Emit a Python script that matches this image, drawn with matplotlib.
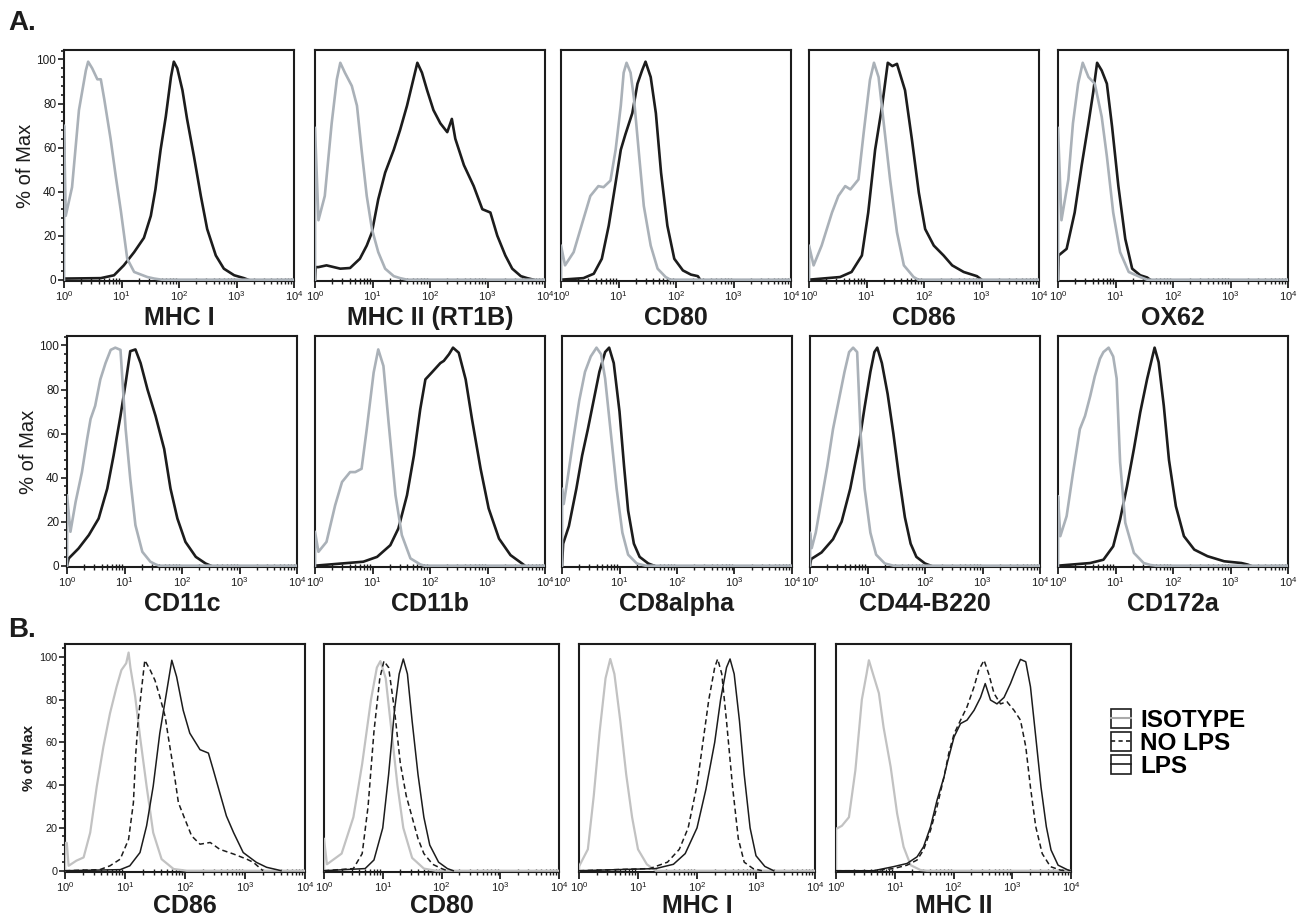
import matplotlib
matplotlib.use('Agg')
import matplotlib.pyplot as plt
import numpy as np
from matplotlib.lines import Line2D
from matplotlib.legend_handler import HandlerLine2D
from matplotlib.patches import Rectangle
from matplotlib.ticker import LogLocator, MultipleLocator, NullFormatter

plt.rcParams['font.family'] = ['Liberation Sans', 'DejaVu Sans']
plt.rcParams['mathtext.fontset'] = 'custom'
plt.rcParams['mathtext.rm'] = 'Liberation Sans'

# histogram traces: (log10 intensity, % of max)
# --- A, top row
mhc1_iso = [(0, 0), (0, 70), (0.03, 29), (0.14, 42), (0.26, 77), (0.38, 95), (0.42, 99), (0.49, 96), (0.58, 91),
            (0.64, 91), (0.70, 82), (0.81, 64), (0.90, 47), (0.99, 31), (1.10, 9.5), (1.22, 3.5), (1.45, 1.2),
            (1.57, 0.5), (1.7, 0), (4, 0)]
mhc1_ab = [(0, 0.5), (0.64, 0.7), (0.87, 2), (1.04, 6.5), (1.22, 12.5), (1.39, 19), (1.51, 29), (1.59, 41),
           (1.68, 59), (1.77, 74), (1.86, 92), (1.91, 99), (1.97, 96), (2.06, 86), (2.14, 73), (2.26, 56),
           (2.38, 38), (2.49, 23), (2.64, 11), (2.78, 5), (2.96, 2), (3.13, 0.7), (3.2, 0)]

mhc2_iso = [(0, 0), (0, 69), (0.06, 27), (0.17, 38), (0.29, 71), (0.38, 91), (0.44, 98.5), (0.52, 94), (0.64, 88),
            (0.73, 79), (0.81, 59), (0.90, 38), (0.99, 23), (1.10, 12.5), (1.22, 5), (1.37, 1.6), (1.48, 0.7),
            (1.6, 0), (4, 0)]
mhc2_ab = [(0, 0), (0.01, 5.7), (0.06, 5.7), (0.20, 6.5), (0.44, 5), (0.61, 5.3), (0.78, 9.5), (0.90, 15.5),
           (0.99, 21.5), (1.10, 36.5), (1.22, 48.6), (1.37, 59), (1.48, 68), (1.60, 79), (1.72, 92), (1.78, 98.5),
           (1.86, 94), (1.95, 86), (2.06, 77), (2.18, 71), (2.30, 67), (2.38, 73), (2.44, 64), (2.59, 52),
           (2.76, 42.5), (2.91, 32), (3.05, 30.5), (3.17, 20), (3.31, 11), (3.43, 5), (3.58, 1.6), (3.69, 0.7),
           (3.8, 0)]

cd80_iso = [(0, 0), (0, 15.5), (0.07, 6.5), (0.22, 12.5), (0.39, 27.5), (0.51, 38), (0.65, 42.5), (0.74, 42),
            (0.86, 45), (0.95, 59), (1.04, 79), (1.09, 94), (1.14, 98.5), (1.21, 94), (1.27, 82), (1.36, 56),
            (1.44, 33.5), (1.56, 15.5), (1.68, 5), (1.82, 1.2), (1.9, 0), (4, 0)]
cd80_ab = [(0, 0), (0.39, 0.7), (0.57, 2.7), (0.71, 9.5), (0.83, 24.5), (0.95, 44), (1.04, 59), (1.12, 66),
           (1.24, 75.6), (1.33, 89), (1.41, 95), (1.47, 99), (1.56, 92), (1.65, 75.6), (1.74, 48.6), (1.85, 24.5),
           (1.97, 9.5), (2.12, 4.2), (2.26, 2.3), (2.38, 1.6), (2.42, 0)]

cd86_iso = [(0, 0), (0, 15.5), (0.08, 6.5), (0.22, 15.5), (0.40, 30.5), (0.51, 38), (0.63, 42.5), (0.72, 41),
            (0.86, 45.5), (0.95, 66.5), (1.06, 90.7), (1.13, 98.5), (1.21, 92), (1.30, 71), (1.41, 45.5),
            (1.53, 21.5), (1.65, 6.5), (1.82, 1.2), (1.9, 0), (4, 0)]
cd86_ab = [(0, 0), (0.54, 1.2), (0.74, 3.5), (0.92, 11), (1.03, 30.5), (1.15, 59), (1.27, 78.6), (1.37, 98.5),
           (1.45, 97), (1.53, 98), (1.67, 86), (1.79, 63.6), (1.91, 39.5), (2.02, 23), (2.17, 15.5), (2.34, 11),
           (2.49, 6.5), (2.69, 3.5), (2.92, 1.6), (3.0, 0)]

ox62_iso = [(0, 0), (0, 69), (0.06, 27), (0.18, 45.5), (0.26, 71), (0.35, 89), (0.43, 98.5), (0.53, 92),
            (0.64, 89), (0.76, 74), (0.85, 56), (0.96, 30.5), (1.08, 12.5), (1.23, 3.5), (1.43, 1.2), (1.55, 0),
            (4, 0)]
ox62_ab = [(0, 0), (0.01, 11), (0.15, 14), (0.29, 30.5), (0.41, 51.6), (0.53, 71), (0.61, 84.7), (0.68, 98.5),
           (0.76, 95), (0.85, 89), (0.94, 69.6), (1.05, 42.5), (1.17, 18.5), (1.29, 5), (1.43, 2), (1.55, 1),
           (1.6, 0)]

# --- A, second row
cd11c_iso = [(0, 0), (0, 32), (0.06, 15.4), (0.15, 29), (0.26, 42.5), (0.35, 57.5), (0.41, 66.6), (0.49, 72.6),
             (0.58, 84.6), (0.67, 92), (0.76, 98), (0.84, 99), (0.93, 98), (1.02, 62), (1.10, 39.5), (1.19, 18.4),
             (1.31, 6.3), (1.45, 1.8), (1.54, 0.6), (1.6, 0), (4, 0)]
cd11c_ab = [(0, 0), (0.03, 3.3), (0.20, 7.8), (0.38, 13.9), (0.55, 21.4), (0.70, 35), (0.81, 50), (0.93, 68),
            (1.02, 83), (1.10, 97.4), (1.19, 98.2), (1.28, 92), (1.40, 80), (1.54, 68), (1.69, 53), (1.80, 35),
            (1.92, 21.4), (2.06, 10.8), (2.24, 4), (2.41, 1), (2.5, 0)]

cd11b_iso = [(0, 0), (0, 15.4), (0.06, 6.3), (0.20, 10.8), (0.35, 27.4), (0.47, 38), (0.61, 42.5), (0.70, 42.5),
             (0.81, 44), (0.90, 62), (1.02, 87.7), (1.10, 98.2), (1.19, 90.7), (1.28, 65), (1.40, 32),
             (1.51, 13.9), (1.66, 3.3), (1.83, 0.6), (1.9, 0), (4, 0)]
cd11b_ab = [(0, 0), (0.84, 1.8), (1.08, 4), (1.31, 9.3), (1.45, 16.9), (1.60, 32), (1.72, 50), (1.83, 71),
            (1.92, 84.6), (2.03, 87.7), (2.18, 92), (2.24, 93), (2.33, 96), (2.40, 99), (2.50, 96.7), (2.62, 84.6),
            (2.73, 66.6), (2.88, 44), (3.02, 26), (3.20, 12.3), (3.40, 4.8), (3.60, 1), (3.65, 0)]

cd8a_iso = [(0, 0), (0, 35), (0.03, 28), (0.1, 40), (0.2, 58), (0.3, 75), (0.4, 88), (0.5, 95), (0.6, 99),
            (0.68, 96), (0.75, 85), (0.85, 60), (0.95, 35), (1.05, 15), (1.15, 5), (1.3, 1), (1.45, 0), (4, 0)]
cd8a_ab = [(0, 0), (0.02, 10), (0.12, 18), (0.25, 35), (0.35, 50), (0.45, 62), (0.55, 75), (0.65, 88), (0.75, 97),
           (0.82, 99), (0.9, 92), (1.0, 70), (1.08, 45), (1.15, 25), (1.25, 10), (1.35, 4), (1.5, 1), (1.6, 0)]

cd44_iso = [(0, 0), (0, 15), (0.03, 8), (0.1, 15), (0.2, 30), (0.3, 45), (0.4, 62), (0.5, 75), (0.6, 88),
            (0.68, 97), (0.75, 99), (0.82, 97), (0.88, 60), (0.95, 35), (1.05, 15), (1.15, 5), (1.3, 1),
            (1.45, 0), (4, 0)]
cd44_ab = [(0, 0), (0.02, 3), (0.2, 6), (0.4, 12), (0.55, 20), (0.7, 35), (0.85, 55), (0.95, 72), (1.05, 88),
           (1.12, 97), (1.17, 99), (1.25, 92), (1.35, 78), (1.45, 60), (1.55, 40), (1.65, 22), (1.75, 10),
           (1.85, 4), (2.0, 1), (2.1, 0)]

cd172_iso = [(0, 0), (0, 31.6), (0.04, 13.4), (0.15, 22.5), (0.26, 42), (0.38, 62), (0.47, 68), (0.56, 77),
             (0.64, 86), (0.73, 94), (0.79, 97), (0.88, 99), (0.96, 95), (1.02, 85), (1.08, 47), (1.17, 19.5),
             (1.32, 5.8), (1.49, 1.2), (1.61, 0.3), (1.7, 0), (4, 0)]
cd172_ab = [(0, 0), (0.56, 1.2), (0.79, 2.7), (0.96, 8.8), (1.08, 21), (1.20, 36), (1.32, 53), (1.43, 69.6),
            (1.55, 84.8), (1.64, 94.7), (1.68, 99), (1.75, 92.4), (1.84, 72.6), (1.93, 48), (2.05, 27),
            (2.19, 13.4), (2.37, 7.3), (2.60, 4.3), (2.89, 2), (3.19, 1.2), (3.30, 0.5), (3.35, 0)]

# --- B, LPS stimulation
b_cd86_iso = [(0, 0), (0, 13), (0.03, 13), (0.06, 2.3), (0.19, 4.7), (0.31, 6.2), (0.42, 17.8), (0.53, 39.5),
              (0.64, 58), (0.75, 73.6), (0.86, 86), (0.94, 93.8), (1.02, 97), (1.06, 102), (1.09, 95),
              (1.17, 81.4), (1.25, 62.8), (1.36, 39.5), (1.47, 17.8), (1.61, 5.4), (1.81, 0.8), (2.03, 0), (4, 0)]
b_cd86_nolps = [(0, 0), (0.58, 0.5), (0.75, 2.3), (0.92, 5.4), (1.06, 14.7), (1.14, 31.8), (1.18, 55),
                (1.22, 70.5), (1.28, 86), (1.33, 98.4), (1.42, 93.8), (1.50, 89), (1.58, 81.4), (1.67, 72),
                (1.72, 62.8), (1.81, 47.3), (1.89, 31.8), (2.00, 24), (2.11, 16.3), (2.25, 12.4), (2.42, 13.2),
                (2.58, 10), (2.81, 7.8), (3.03, 5.4), (3.14, 3.9), (3.3, 0)]
b_cd86_lps = [(0, 0), (0.92, 0.5), (1.08, 2.3), (1.25, 8.5), (1.36, 21), (1.47, 39.5), (1.58, 64.3), (1.69, 83),
              (1.78, 98.4), (1.86, 90.7), (1.97, 75), (2.08, 64.3), (2.25, 56.6), (2.39, 55), (2.47, 47.3),
              (2.58, 36.4), (2.69, 25.6), (2.81, 17.8), (2.97, 8.5), (3.19, 3.9), (3.36, 1.6), (3.53, 0.5),
              (3.6, 0)]

b_cd80_iso = [(0, 0), (0, 15), (0.05, 3), (0.3, 8), (0.5, 25), (0.65, 50), (0.8, 80), (0.9, 95), (0.96, 98),
              (1.05, 90), (1.15, 65), (1.25, 40), (1.35, 20), (1.5, 6), (1.7, 1), (1.9, 0), (4, 0)]
b_cd80_nolps = [(0, 0), (0.5, 1), (0.65, 8), (0.75, 30), (0.85, 65), (0.95, 90), (1.02, 98), (1.1, 95),
                (1.2, 75), (1.3, 50), (1.4, 35), (1.5, 25), (1.6, 15), (1.7, 8), (1.85, 3), (2.0, 1), (2.1, 0)]
b_cd80_lps = [(0, 0), (0.7, 1), (0.85, 5), (1.0, 20), (1.1, 45), (1.2, 75), (1.28, 92), (1.35, 99), (1.42, 92),
              (1.5, 70), (1.6, 45), (1.7, 25), (1.8, 12), (1.95, 4), (2.1, 1), (2.2, 0)]

b_mhc1_iso = [(0, 0), (0, 2), (0.15, 10), (0.25, 35), (0.35, 65), (0.45, 90), (0.53, 99), (0.6, 92), (0.7, 70),
              (0.8, 45), (0.9, 25), (1.0, 10), (1.15, 3), (1.3, 0), (4, 0)]
b_mhc1_nolps = [(0, 0), (1.2, 1), (1.5, 4), (1.7, 10), (1.85, 20), (2.0, 40), (2.1, 60), (2.2, 80), (2.3, 95),
                (2.35, 99), (2.42, 92), (2.5, 70), (2.6, 40), (2.7, 15), (2.8, 4), (2.95, 1), (3.1, 0)]
b_mhc1_lps = [(0, 0), (1.3, 1), (1.6, 3), (1.8, 8), (2.0, 20), (2.15, 38), (2.3, 60), (2.4, 80), (2.5, 95),
              (2.56, 99), (2.63, 92), (2.72, 70), (2.8, 45), (2.9, 20), (3.0, 7), (3.15, 2), (3.3, 0)]

b_mhc2_iso = [(0, 0), (0, 19.8), (0.02, 19.8), (0.10, 21), (0.22, 25), (0.33, 47), (0.44, 80), (0.52, 92),
              (0.56, 98.4), (0.63, 92), (0.73, 83), (0.81, 67), (0.93, 48.6), (1.04, 26.8), (1.15, 11.2),
              (1.27, 2.6), (1.44, 0.3), (1.55, 0), (4, 0)]
b_mhc2_nolps = [(0, 0), (0.64, 0), (0.98, 1), (1.21, 2.6), (1.38, 5), (1.49, 9.7), (1.61, 19), (1.72, 30),
                (1.84, 44), (1.92, 55), (2.01, 64), (2.12, 70.4), (2.23, 76.6), (2.35, 86), (2.43, 93.8),
                (2.52, 98.4), (2.60, 92), (2.69, 82.9), (2.80, 78), (2.91, 79), (3.03, 75), (3.14, 70.4),
                (3.23, 58), (3.31, 39), (3.40, 20.6), (3.51, 8), (3.65, 1.9), (3.82, 0.3), (3.9, 0)]
b_mhc2_lps = [(0, 0), (0.64, 0), (0.98, 1.9), (1.21, 3.4), (1.38, 6.5), (1.49, 11.2), (1.61, 20.6), (1.72, 33),
              (1.84, 44), (1.89, 50), (2.01, 62.6), (2.12, 68.8), (2.23, 70.4), (2.35, 75), (2.46, 81),
              (2.54, 87.5), (2.63, 79.8), (2.74, 78), (2.86, 81), (2.97, 87.5), (3.06, 93.8), (3.14, 98.8),
              (3.23, 97.7), (3.31, 86), (3.40, 62.6), (3.49, 39), (3.58, 20.6), (3.66, 9.7), (3.78, 2.6),
              (3.95, 0.3), (4, 0)]

row1 = [("MHC I", mhc1_iso, mhc1_ab), ("MHC II (RT1B)", mhc2_iso, mhc2_ab), ("CD80", cd80_iso, cd80_ab),
        ("CD86", cd86_iso, cd86_ab), ("OX62", ox62_iso, ox62_ab)]
row2 = [("CD11c", cd11c_iso, cd11c_ab), ("CD11b", cd11b_iso, cd11b_ab), ("CD8alpha", cd8a_iso, cd8a_ab),
        ("CD44-B220", cd44_iso, cd44_ab), ("CD172a", cd172_iso, cd172_ab)]
row3 = [("CD86", b_cd86_iso, b_cd86_nolps, b_cd86_lps), ("CD80", b_cd80_iso, b_cd80_nolps, b_cd80_lps),
        ("MHC I", b_mhc1_iso, b_mhc1_nolps, b_mhc1_lps), ("MHC II", b_mhc2_iso, b_mhc2_nolps, b_mhc2_lps)]
legend_labels = ["ISOTYPE", "NO LPS", "LPS"]

GRAY_A = '#aab1b8'
GRAY_B = '#c2c2c2'
INK = '#1c1c1c'

W, H = 1306, 922
fig = plt.figure(figsize=(W / 100, H / 100), dpi=100)


def px_axes(left, top, width, height):
    return fig.add_axes([left / W, 1 - (top + height) / H, width / W, height / H])


def trace(ax, pts, **kw):
    lx = np.array([p[0] for p in pts])
    y = np.array([p[1] for p in pts])
    ax.plot(10 ** lx, y, **kw)


def style(ax, first, panel_b=False):
    ax.set_xscale('log')
    ax.set_xlim(1, 1e4)
    ax.set_ylim(-0.6, 106 if panel_b else 104.3)
    ax.set_xticks([1, 10, 100, 1000, 10000])
    ax.set_xticklabels([r'$10^{%d}$' % i for i in range(5)])
    ax.xaxis.set_minor_locator(LogLocator(base=10, subs=np.arange(2, 10), numticks=20))
    ax.xaxis.set_minor_formatter(NullFormatter())
    ax.tick_params(axis='x', which='major', direction='out', length=5, width=1.3,
                   labelsize=8, pad=1.2, colors=INK)
    ax.tick_params(axis='x', which='minor', direction='inout', length=4, width=1, colors=INK)
    for s in ax.spines.values():
        s.set_linewidth(1.5)
        s.set_color(INK)
    if first:
        ax.set_yticks([0, 20, 40, 60, 80, 100])
        ax.yaxis.set_minor_locator(MultipleLocator(4))
        ax.tick_params(axis='y', which='major', direction='out', length=4, width=1.2,
                       labelsize=7.8 if panel_b else 8.5, pad=1.5, colors=INK)
        ax.tick_params(axis='y', which='minor', direction='out', length=2, width=1.2, colors=INK)
        if panel_b:
            ax.set_ylabel('% of Max', fontsize=11, fontweight='bold', labelpad=2, color=INK)
        else:
            ax.set_ylabel('% of Max', fontsize=14.5, labelpad=1, color=INK)
    else:
        ax.set_yticks([])


# panel A: two rows of five
for row, top, lefts in [(row1, 50, [64, 315, 561, 809, 1058]), (row2, 336, [67, 315, 562, 810, 1058])]:
    for i, (name, iso, ab) in enumerate(row):
        ax = px_axes(lefts[i], top, 230, 231)
        trace(ax, ab, color=INK, lw=1.9, zorder=3)
        trace(ax, iso, color=GRAY_A, lw=1.9, zorder=3)
        style(ax, i == 0)
        ax.set_xlabel(name, fontsize=18, fontweight='bold', labelpad=2, color=INK)

# panel B: one row of four
for i, (name, iso, nolps, lps) in enumerate(row3):
    lefts = [65, 324, 579, 836]
    widths = [240, 235, 236, 235]
    ax = px_axes(lefts[i], 644, widths[i], 228)
    trace(ax, iso, color=GRAY_B, lw=1.6, zorder=3)
    trace(ax, nolps, color=INK, lw=1.1, ls=(0, (3.5, 2.2)), zorder=4)
    trace(ax, lps, color=INK, lw=1.1, zorder=4)
    style(ax, i == 0, panel_b=True)
    ax.set_xlabel(name, fontsize=18, fontweight='bold', labelpad=0, color=INK)

fig.text(8 / W, 1 - 30 / H, 'A.', fontsize=20, fontweight='bold', va='baseline', color=INK)
fig.text(8 / W, 1 - 637 / H, 'B.', fontsize=20, fontweight='bold', va='baseline', color=INK)


class BoxedLine(HandlerLine2D):
    def create_artists(self, legend, orig_handle, xdescent, ydescent, width, height, fontsize, trans):
        arts = super().create_artists(legend, orig_handle, xdescent, ydescent, width, height, fontsize, trans)
        box = Rectangle((-xdescent, -ydescent), width, height, fill=False, ec=INK, lw=1.2, transform=trans)
        return [box] + list(arts)


handles = [Line2D([], [], color='#aaaaaa', lw=1.5),
           Line2D([], [], color=INK, lw=1.2, ls=(0, (2.5, 2))),
           Line2D([], [], color=INK, lw=1.2)]
fig.legend(handles, legend_labels, loc='upper left', bbox_to_anchor=(1099 / W, 1 - 697 / H),
           frameon=False, borderpad=0, handlelength=0.8, handleheight=0.8, handletextpad=0.4,
           labelspacing=0.0, prop={'size': 17.5, 'weight': 'bold'},
           handler_map={Line2D: BoxedLine(marker_pad=0)})

fig.savefig('out.png', dpi=100)
